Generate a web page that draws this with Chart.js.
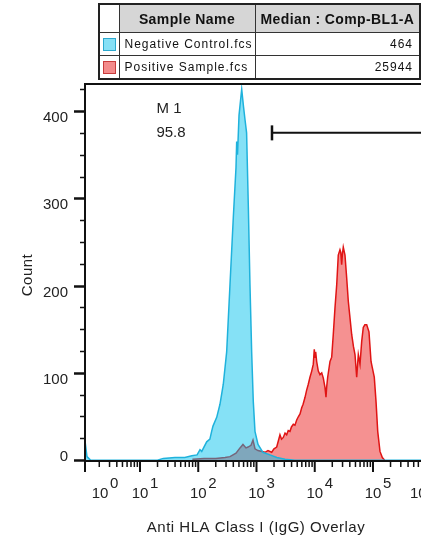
<!DOCTYPE html>
<html>
<head>
<meta charset="utf-8">
<script src="https://cdn.jsdelivr.net/npm/chart.js@4"></script>
<style>
  body { margin: 0; background: #fff; overflow: hidden; }
  #wrap { position: relative; width: 421px; height: 539px; overflow: hidden; }
  #myChart { position: absolute; left: 0; top: 0; }
  table#stats {
    position: absolute; left: 98px; top: 3px; width: 321px;
    border-collapse: collapse; border: 2px solid #222;
    font-family: "Liberation Sans", Arial, sans-serif; color: #111;
    table-layout: fixed;
  }
  #stats td, #stats th { border: 1px solid #333; padding: 0 5px; white-space: nowrap; overflow: hidden; }
  #stats th { height: 27px; background: #d6d6d6; font-size: 14px; letter-spacing: 0.4px; }
  #stats th.blank { background: #fff; }
  #stats td { height: 22px; font-size: 12px; letter-spacing: 1px; }
  #stats td.val { text-align: right; padding-right: 6px; }
  #stats td.sw { padding: 0; text-align: center; }
  .swatch { display: inline-block; width: 11px; height: 11px; vertical-align: middle; }
</style>
</head>
<body>
<div id="wrap">
  <canvas id="myChart" width="421" height="539"></canvas>
  <table id="stats"></table>
</div>
<script>
// stats table
var sampleNames = ['Negative Control.fcs', 'Positive Sample.fcs'];
var sampleMedians = [464, 25944];
var sampleFill = ['#86e0f6', '#f38b8b'];
var sampleEdge = ['#2ca9cf', '#c83c3c'];

// histogram channels, read in decades off the log axis
var negLog = [0.056, 0.09, 0.15, 1.30, 1.40, 1.60, 1.77, 1.89, 1.98, 2.03,
  2.06, 2.145, 2.20, 2.23, 2.253, 2.317, 2.373, 2.43, 2.488, 2.545,
  2.602, 2.648, 2.66, 2.674, 2.70, 2.746, 2.777, 2.803, 2.83, 2.86,
  2.888, 2.917, 2.945, 2.974, 3.026, 3.11, 3.23, 3.35, 3.49, 3.66, 5.824];
var negCount = [22, 4, 0, 0, 2, 3, 3, 5, 6, 12,
  10, 21, 24, 33, 39, 49, 64, 87, 124, 201,
  278, 335, 365, 350, 395, 425, 405, 390, 375, 290,
  201, 124, 67, 33, 18, 9, 6, 3, 1, 0, 0];

var posLog = [1.90, 2.10, 2.30, 2.46, 2.545, 2.648, 2.717, 2.768, 2.82, 2.854,
  2.906, 2.94, 2.974, 3.026, 3.094, 3.146, 3.197, 3.261, 3.30, 3.347,
  3.403, 3.43, 3.46, 3.49, 3.518, 3.545, 3.575, 3.60, 3.632, 3.66,
  3.69, 3.72, 3.747, 3.776, 3.80, 3.833, 3.86, 3.889, 3.918, 3.948,
  3.975, 3.992, 4.005, 4.016, 4.033, 4.061, 4.09, 4.12, 4.147, 4.176,
  4.193, 4.205, 4.222, 4.262, 4.291, 4.318, 4.348, 4.377, 4.404, 4.433,
  4.447, 4.462, 4.475, 4.49, 4.519, 4.548, 4.576, 4.605, 4.634, 4.665,
  4.691, 4.72, 4.748, 4.777, 4.806, 4.833, 4.86, 4.892, 4.931, 4.966,
  4.988, 5.022, 5.052, 5.081, 5.12, 5.16, 5.20];
var posCount = [1, 2, 2, 3, 4, 8, 14, 18, 14, 15,
  17, 23, 13, 11, 10, 9, 11, 9, 13, 15,
  29, 24, 26, 31, 29, 34, 33, 38, 41, 40,
  46, 50, 53, 60, 64, 72, 80, 87, 95, 102,
  110, 127, 118, 124, 113, 102, 98, 100, 94, 83,
  72, 84, 95, 113, 118, 144, 175, 201, 235, 241,
  238, 224, 236, 244, 235, 209, 182, 163, 144, 130,
  121, 95, 121, 110, 136, 152, 155, 155, 147, 113,
  106, 95, 67, 33, 10, 3, 0];

var xDecades = [0, 1, 2, 3, 4, 5, 6];
var yTicks = [0, 25, 50, 75, 100, 125, 150, 175, 200, 225, 250, 275, 300, 325, 350, 375, 400, 425];
var xTitle = 'Anti HLA Class I (IgG) Overlay';
var yTitle = 'Count';
var gateName = 'M 1';
var gatePct = '95.8';
var gateStart = 1845;
var gateCount = 375;

// build table
var html = '<colgroup><col style="width:20px"><col style="width:136px"><col style="width:165px"></colgroup>' +
  '<tr><th class="blank"></th><th>Sample Name</th><th>Median : Comp-BL1-A</th></tr>';
for (let i = 0; i < sampleNames.length; i++) {
  html += '<tr><td class="sw"><span class="swatch" style="background:' + sampleFill[i] + ';border:1px solid ' + sampleEdge[i] + '"></span></td>' +
    '<td>' + sampleNames[i] + '</td><td class="val">' + sampleMedians[i] + '</td></tr>';
}
document.getElementById('stats').innerHTML = html;

function toPoints(logs, counts) {
  var pts = [];
  for (let i = 0; i < logs.length; i++) {
    pts.push({ x: Math.pow(10, logs[i]), y: counts[i] });
  }
  return pts;
}

const FONT = '"Liberation Sans", Arial, sans-serif';

const axesPlugin = {
  id: 'flowAxes',
  afterDraw(chart) {
    const ctx = chart.ctx;
    const a = chart.chartArea;
    const xs = chart.scales.x;
    const ys = chart.scales.y;
    ctx.save();
    ctx.strokeStyle = '#111';
    ctx.lineWidth = 2;
    ctx.beginPath();
    ctx.moveTo(a.left - 1, a.top); ctx.lineTo(a.right, a.top);
    ctx.moveTo(a.left, a.top); ctx.lineTo(a.left, a.bottom + 1);
    ctx.moveTo(a.left, a.bottom); ctx.lineTo(a.right, a.bottom);
    ctx.stroke();

    // y ticks
    ctx.fillStyle = '#222';
    ctx.font = '15px ' + FONT;
    ctx.textAlign = 'right';
    ctx.textBaseline = 'middle';
    yTicks.forEach(function (v) {
      const py = Math.round(ys.getPixelForValue(v)) + 0.5;
      const major = v % 100 === 0;
      ctx.lineWidth = major ? 2.5 : 1.5;
      ctx.beginPath();
      ctx.moveTo(a.left - (major ? 11 : 5), py);
      ctx.lineTo(a.left, py);
      ctx.stroke();
      if (major) ctx.fillText(String(v), 68, py + (v === 0 ? -4 : 6));
    });

    // x ticks
    xDecades.forEach(function (d) {
      const px = d === 0 ? a.left : xs.getPixelForValue(Math.pow(10, d));
      ctx.lineWidth = 2;
      ctx.beginPath();
      ctx.moveTo(px, a.bottom); ctx.lineTo(px, a.bottom + 11);
      ctx.stroke();
      ctx.lineWidth = 1.5;
      for (let m = 2; m <= 9; m++) {
        const mx = xs.getPixelForValue(m * Math.pow(10, d));
        if (mx < a.left || mx > a.right) continue;
        ctx.beginPath();
        ctx.moveTo(mx, a.bottom); ctx.lineTo(mx, a.bottom + 6);
        ctx.stroke();
      }
      // first and last labels are nudged inward, as in the original export
      const lx = px + (d === 0 ? 15 : d === 6 ? -13 : 0);
      ctx.textAlign = 'center';
      ctx.textBaseline = 'middle';
      ctx.fillText('10', lx, 494);
      ctx.textAlign = 'left';
      ctx.fillText(String(d), lx + 10, 484);
    });

    // axis titles
    ctx.textAlign = 'center';
    ctx.textBaseline = 'middle';
    ctx.letterSpacing = '0.5px';
    ctx.fillText(xTitle, 256, 528);
    ctx.save();
    ctx.translate(28, 275);
    ctx.rotate(-Math.PI / 2);
    ctx.fillText(yTitle, 0, 0);
    ctx.restore();
    ctx.letterSpacing = '0px';

    // marker
    ctx.fillText(gateName, 169, 109);
    ctx.fillText(gatePct, 171, 133);
    const gx = xs.getPixelForValue(gateStart);
    const gy = ys.getPixelForValue(gateCount);
    ctx.lineWidth = 2.5;
    ctx.beginPath();
    ctx.moveTo(gx, gy - 7.5); ctx.lineTo(gx, gy + 7.5);
    ctx.stroke();
    ctx.lineWidth = 2;
    ctx.beginPath();
    ctx.moveTo(gx, gy); ctx.lineTo(a.right, gy);
    ctx.stroke();
    ctx.restore();
  }
};

var ctx = document.getElementById('myChart').getContext('2d');
var myChart = new Chart(ctx, {
  type: 'line',
  data: {
    datasets: [{
      label: sampleNames[0],
      data: toPoints(negLog, negCount),
      borderColor: '#1fb2dc',
      backgroundColor: 'rgba(0, 192, 236, 0.48)',
      borderWidth: 1.5,
      fill: 'origin'
    }, {
      label: sampleNames[1],
      data: toPoints(posLog, posCount),
      borderColor: '#e01414',
      backgroundColor: 'rgba(236, 36, 36, 0.5)',
      borderWidth: 1.5,
      fill: 'origin'
    }]
  },
  options: {
    responsive: false,
    animation: false,
    layout: { padding: { top: 84, left: 85, bottom: 78, right: 0 } },
    elements: { point: { radius: 0 }, line: { tension: 0 } },
    plugins: { legend: { display: false }, tooltip: { enabled: false } },
    scales: {
      x: { type: 'logarithmic', min: Math.pow(10, 0.056), max: Math.pow(10, 5.824), display: false },
      y: { type: 'linear', min: -1, max: 431, display: false }
    }
  },
  plugins: [axesPlugin]
});
</script>
</body>
</html>
